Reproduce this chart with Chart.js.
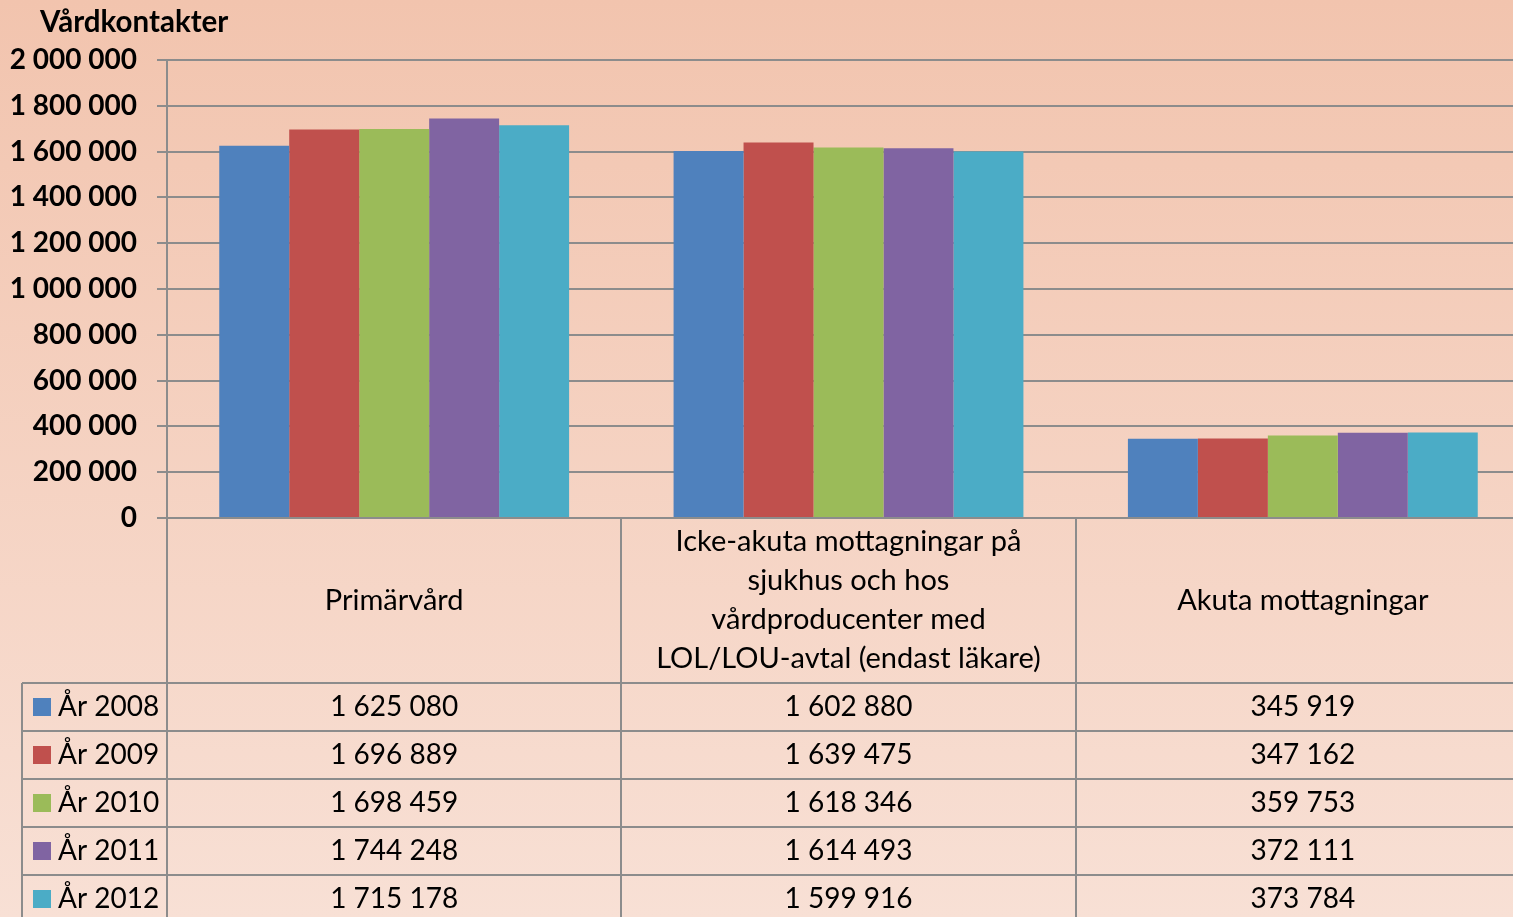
<!DOCTYPE html>
<html>
<head>
<meta charset="utf-8">
<script src="https://cdn.jsdelivr.net/npm/chart.js@4.4.1/dist/chart.umd.min.js"></script>
<style>
  html, body { margin: 0; padding: 0; overflow: hidden; }
  body { width: 1513px; height: 917px; background: linear-gradient(#f2c4ae, #f8e0d5); }
  #wrap { width: 1530px; height: 917px; position: relative; }
</style>
</head>
<body>
<div id="wrap"><canvas id="myChart"></canvas></div>
<script>
// category labels (one entry per line)
var categories = [
    ['Primärvård'],
    ['Icke-akuta mottagningar på', 'sjukhus och hos', 'vårdproducenter med', 'LOL/LOU-avtal (endast läkare)'],
    ['Akuta mottagningar']
];
var years = ['År 2008', 'År 2009', 'År 2010', 'År 2011', 'År 2012'];
var values2008 = [1625080, 1602880, 345919];
var values2009 = [1696889, 1639475, 347162];
var values2010 = [1698459, 1618346, 359753];
var values2011 = [1744248, 1614493, 372111];
var values2012 = [1715178, 1599916, 373784];
var yTicksMax = 2000000;
var yTicksStep = 200000;
var axisTitle = 'Vårdkontakter';

var seriesValues = [values2008, values2009, values2010, values2011, values2012];
var colors = ['#4f81bd', '#c0504d', '#9bbb59', '#8064a2', '#4bacc6'];
var lineColor = '#8c8c8c';
var fontFam = 'Lato, "Open Sans", sans-serif';

function fmt(n) {
    return String(n).replace(/\B(?=(\d{3})+(?!\d))/g, ' ');
}

var tablePlugin = {
    id: 'dataTable',
    afterDraw: function (chart) {
        var c = chart.ctx;
        var area = chart.chartArea;
        var H = chart.height;
        var W = chart.width;
        var colW = (area.right - area.left) / categories.length;
        var headerBottom = 683;
        var rowH = 48;
        c.save();
        c.strokeStyle = lineColor;
        c.lineWidth = 2;
        c.beginPath();
        // y axis extended through table
        c.moveTo(area.left, area.bottom);
        c.lineTo(area.left, H);
        // column separators
        for (var k = 1; k < categories.length; k++) {
            var x = Math.round(area.left + k * colW);
            c.moveTo(x, area.bottom);
            c.lineTo(x, H);
        }
        // left border of legend column
        c.moveTo(22, headerBottom);
        c.lineTo(22, H);
        // row lines
        for (var r = 0; r < years.length; r++) {
            var y = headerBottom + r * rowH;
            c.moveTo(22, y);
            c.lineTo(W, y);
        }
        c.stroke();

        // category header labels
        c.fillStyle = '#000';
        c.textAlign = 'center';
        c.textBaseline = 'middle';
        c.font = '29px ' + fontFam;
        var headerMid = (area.bottom + headerBottom) / 2;
        for (var i = 0; i < categories.length; i++) {
            var cx = area.left + (i + 0.5) * colW;
            var lines = categories[i];
            var lh = 39;
            var y0 = headerMid - (lines.length - 1) * lh / 2;
            for (var j = 0; j < lines.length; j++) {
                c.fillText(lines[j], cx, y0 + j * lh);
            }
        }

        // data rows
        c.font = '28px ' + fontFam;
        for (var r = 0; r < years.length; r++) {
            var cy = headerBottom + r * rowH + rowH / 2;
            c.fillStyle = colors[r];
            c.fillRect(33, cy - 9, 18, 18);
            c.fillStyle = '#000';
            c.textAlign = 'left';
            c.fillText(years[r], 58, cy);
            c.textAlign = 'center';
            for (var i = 0; i < categories.length; i++) {
                var cx = area.left + (i + 0.5) * colW;
                c.fillText(fmt(seriesValues[r][i]), cx, cy);
            }
        }

        // axis title
        c.font = 'bold 29.5px ' + fontFam;
        c.textAlign = 'left';
        c.fillText(axisTitle, 40, 22);
        c.restore();
    }
};

var datasets = [];
for (var s = 0; s < years.length; s++) {
    datasets.push({
        label: years[s],
        data: seriesValues[s],
        backgroundColor: colors[s],
        borderWidth: 0,
        barPercentage: 1,
        categoryPercentage: 0.77
    });
}

var ctx = document.getElementById('myChart').getContext('2d');
var myChart = new Chart(ctx, {
    type: 'bar',
    data: {
        labels: categories.map(function (l) { return l.join(' '); }),
        datasets: datasets
    },
    options: {
        responsive: true,
        maintainAspectRatio: false,
        animation: false,
        layout: { padding: { top: 60, bottom: 399, left: 0, right: 0 } },
        plugins: {
            legend: { display: false },
            title: { display: false },
            tooltip: { enabled: false }
        },
        scales: {
            x: { display: false },
            y: {
                min: 0,
                max: yTicksMax,
                afterFit: function (scale) { scale.width = 167; },
                ticks: {
                    stepSize: yTicksStep,
                    padding: 20,
                    color: '#000',
                    font: { family: fontFam, size: 28, weight: 'bold' },
                    callback: function (v) { return fmt(v); }
                },
                grid: { color: lineColor, lineWidth: 2, tickLength: 10 },
                border: { color: lineColor, width: 2 }
            }
        }
    },
    plugins: [tablePlugin]
});
</script>
</body>
</html>
